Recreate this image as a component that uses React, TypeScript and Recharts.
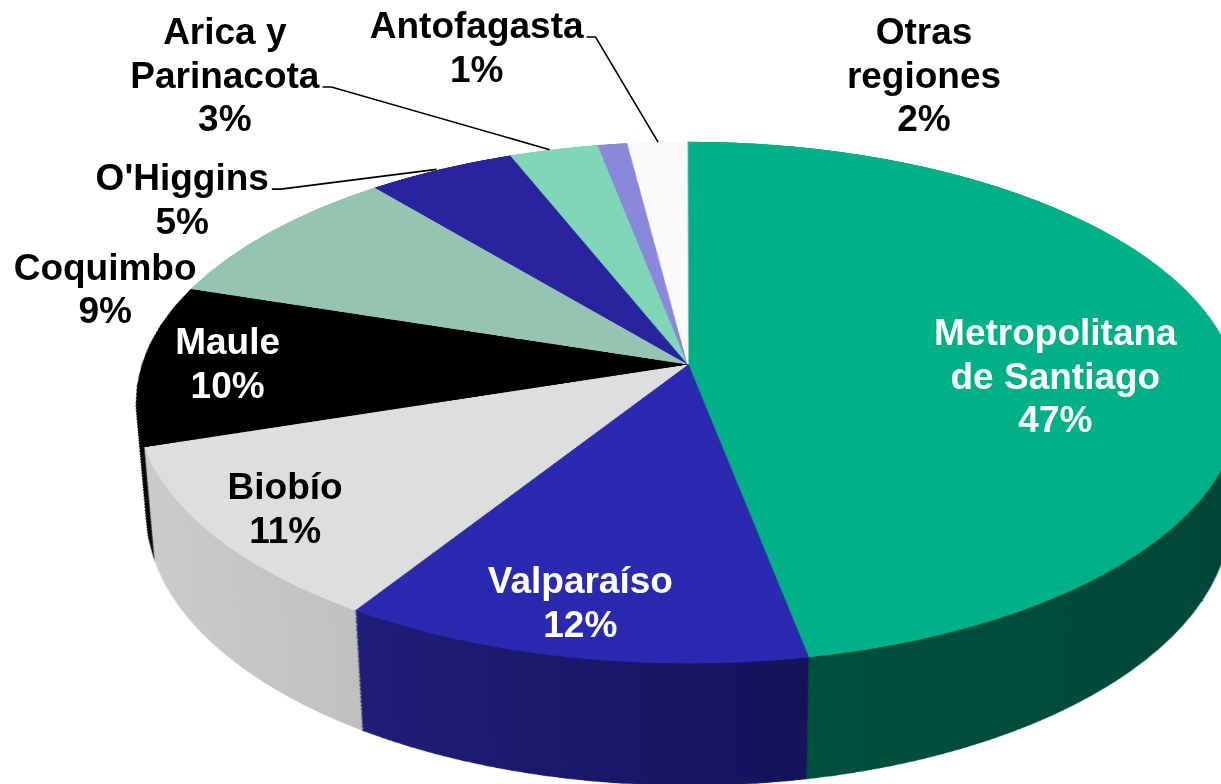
import { PieChart, Pie, Cell } from "recharts";

// regions and their share of the total (%)
const regions = [
  "Metropolitana de Santiago",
  "Valparaíso",
  "Biobío",
  "Maule",
  "Coquimbo",
  "O'Higgins",
  "Arica y Parinacota",
  "Antofagasta",
  "Otras regiones",
];
const shares = [47, 12, 11, 10, 9, 5, 3, 1, 2];
const labelLines = [
  ["Metropolitana", "de Santiago"],
  ["Valparaíso"],
  ["Biobío"],
  ["Maule"],
  ["Coquimbo"],
  ["O'Higgins"],
  ["Arica y", "Parinacota"],
  ["Antofagasta"],
  ["Otras", "regiones"],
];

const topColors = ["#00B187", "#2B29AF", "#DEDEDE", "#000000", "#95C4B0", "#2A239F", "#80D6B6", "#8A88DB", "#FAFAFA"];
// side shading: left and right colour of each slice's rim
const sideLeft = ["#00533F", "#201D78", "#CBCBCB", "#080808", "#6A9684", "#201D78", "#5AA88C", "#5B59A8", "#D8D8D8"];
const sideRight = ["#004638", "#15135A", "#B2B2B2", "#000000", "#557E6E", "#15135A", "#479478", "#4C4A96", "#C8C8C8"];
const labelColors = ["#fff", "#fff", "#000", "#fff", "#000", "#000", "#000", "#000", "#000"];

// label placement on the disc: radial factor, angle shift from slice middle, optional leader line
const placements = [
  { k: 0.68, shift: -10 },
  { k: 0.845, shift: -0.5 },
  { k: 0.857, shift: 0.4 },
  { k: 0.835, shift: 0.3 },
  { k: 1.147, shift: 19 },
  { k: 1.236, shift: 24.5, leader: 0, end: 0 },
  { k: 1.684, shift: 20.5, leader: 1, end: 0 },
  { k: 1.581, shift: 8, leader: 0, end: -6 },
  { k: 1.451, shift: -25 },
];

const data = regions.map((name, i) => ({ name, value: shares[i] }));

const W = 1221;
const H = 784;
// apex of the disc on screen, disc radius, tilt and perspective
const AX = 683;
const AY = 362;
const R = 545;
const TILT = 62.16;
const PERSP = 3300;
const THICK = 126;
const COS = Math.cos((TILT * Math.PI) / 180);
const SIN = Math.sin((TILT * Math.PI) / 180);
const EYE_Y = PERSP * SIN;
const EYE_Z = PERSP * COS;
const C = 560; // pie centre inside the tilted plane
const PLANE_H = 1300;
const LAYERS = 90;

const FS = 37;
const LH = 43.5;
const FONT = '"Liberation Sans", Arial, sans-serif';

// a lower disc seen from the eye equals a shrunk, shifted disc in the top plane
const layers = Array.from({ length: LAYERS }, (_, i) => {
  const depth = (THICK * (LAYERS - i)) / LAYERS;
  const t = EYE_Z / (EYE_Z + depth);
  return { key: LAYERS - i, r: R * t, dy: EYE_Y * (1 - t) };
});

const RAD = Math.PI / 180;
function project(angle: number, k: number) {
  const xl = R * k * Math.cos(angle * RAD);
  const yl = -R * k * Math.sin(angle * RAD);
  const s = PERSP / (PERSP - yl * SIN);
  return { x: AX + xl * s, y: AY + yl * COS * s };
}

let ctx: CanvasRenderingContext2D | null = null;
function textWidth(s: string) {
  if (!ctx) ctx = document.createElement("canvas").getContext("2d");
  if (!ctx) return s.length * 19;
  ctx.font = `bold ${FS}px ${FONT}`;
  return ctx.measureText(s).width;
}

function renderLabel(props: any) {
  const { midAngle, index } = props;
  const p = placements[index];
  const { x, y } = project(midAngle + p.shift, p.k);
  const lines = [...labelLines[index], `${shares[index]}%`];
  const top = y - ((lines.length - 1) * LH) / 2;
  let leader = null;
  if (p.leader !== undefined) {
    const ly = top + p.leader * LH + 12;
    const lx = x + textWidth(lines[p.leader]) / 2 + 3;
    const e = project(midAngle + (p.end || 0), 1);
    leader = (
      <polyline
        points={`${lx},${ly} ${lx + 9},${ly} ${e.x},${e.y + 2}`}
        fill="none"
        stroke="#000"
        strokeWidth={1.6}
      />
    );
  }
  return (
    <g key={`lbl-${index}`}>
      {leader}
      <text
        x={x}
        y={top}
        textAnchor="middle"
        dominantBaseline="central"
        fill={labelColors[index]}
        style={{ fontFamily: FONT, fontWeight: 700, fontSize: FS }}
      >
        {lines.map((l, j) => (
          <tspan key={j} x={x} dy={j === 0 ? 0 : LH}>
            {l}
          </tspan>
        ))}
      </text>
    </g>
  );
}

export default function App() {
  return (
    <div style={{ position: "absolute", left: 0, top: 0, width: W, height: H, overflow: "hidden", background: "#fff" }}>
      <div
        style={{
          position: "absolute",
          left: AX - C,
          top: AY - C,
          width: 2 * C,
          height: PLANE_H,
          transformOrigin: `${C}px ${C}px`,
          transform: `perspective(${PERSP}px) rotateX(${TILT}deg)`,
        }}
      >
        <PieChart width={2 * C} height={PLANE_H}>
          <defs>
            {regions.map((r, i) => (
              <linearGradient key={r} id={`side-${i}`} x1="0" y1="0" x2="1" y2="0">
                <stop offset="0%" stopColor={sideLeft[i]} />
                <stop offset="100%" stopColor={sideRight[i]} />
              </linearGradient>
            ))}
          </defs>
          {layers.map((l) => (
            <Pie
              key={`side-${l.key}`}
              data={data}
              dataKey="value"
              cx={C}
              cy={C + l.dy}
              outerRadius={l.r}
              startAngle={90}
              endAngle={-270}
              isAnimationActive={false}
            >
              {data.map((d, i) => (
                <Cell key={d.name} fill={`url(#side-${i})`} stroke={`url(#side-${i})`} strokeWidth={1} />
              ))}
            </Pie>
          ))}
          <Pie
            data={data}
            dataKey="value"
            cx={C}
            cy={C}
            outerRadius={R}
            startAngle={90}
            endAngle={-270}
            isAnimationActive={false}
          >
            {data.map((d, i) => (
              <Cell key={d.name} fill={topColors[i]} stroke={topColors[i]} strokeWidth={1} />
            ))}
          </Pie>
        </PieChart>
      </div>
      <div style={{ position: "absolute", left: 0, top: 0 }}>
        <PieChart width={W} height={H}>
          <Pie
            data={data}
            dataKey="value"
            cx={AX}
            cy={AY}
            outerRadius={200}
            startAngle={90}
            endAngle={-270}
            fill="none"
            stroke="none"
            label={renderLabel}
            labelLine={false}
            isAnimationActive={false}
          />
        </PieChart>
      </div>
    </div>
  );
}
